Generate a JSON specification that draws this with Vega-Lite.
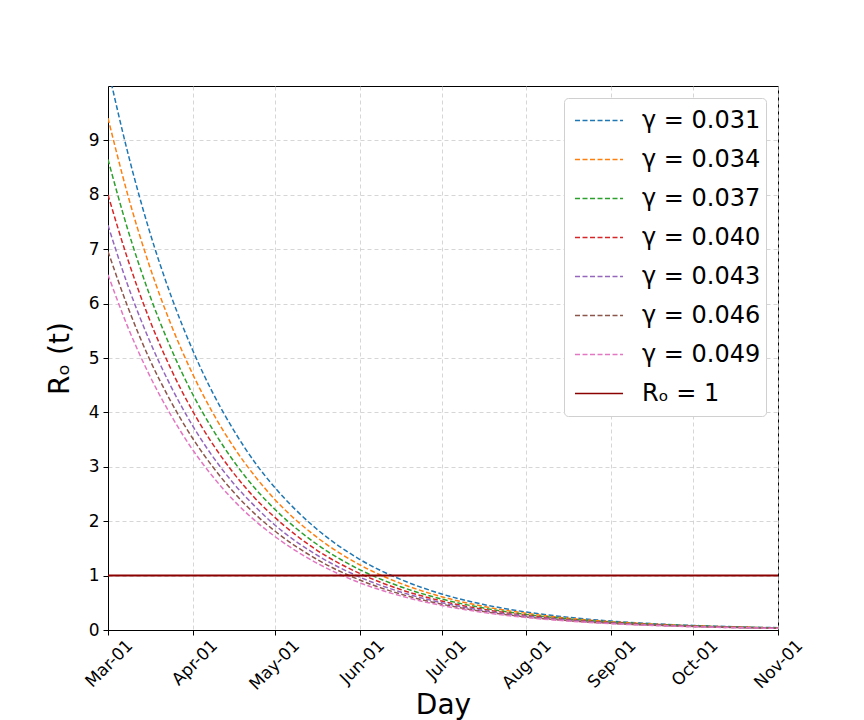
{
  "$schema": "https://vega.github.io/schema/vega-lite/v6.json",
  "autosize": "none",
  "width": 670,
  "height": 544,
  "padding": {"left": 108, "top": 86, "right": 86, "bottom": 90},
  "background": "white",
  "data": {"values": [
    {"d": "2020-03-01", "s": "γ = 0.031", "r": 10.32}, {"d": "2020-03-08", "s": "γ = 0.031", "r": 8.82}, {"d": "2020-03-16", "s": "γ = 0.031", "r": 7.36}, {"d": "2020-03-24", "s": "γ = 0.031", "r": 6.15}, {"d": "2020-04-01", "s": "γ = 0.031", "r": 5.14}, {"d": "2020-04-08", "s": "γ = 0.031", "r": 4.39}, {"d": "2020-04-16", "s": "γ = 0.031", "r": 3.67}, {"d": "2020-04-24", "s": "γ = 0.031", "r": 3.06}, {"d": "2020-05-01", "s": "γ = 0.031", "r": 2.62}, {"d": "2020-05-16", "s": "γ = 0.031", "r": 1.87}, {"d": "2020-06-01", "s": "γ = 0.031", "r": 1.30}, {"d": "2020-06-16", "s": "γ = 0.031", "r": 0.930}, {"d": "2020-07-01", "s": "γ = 0.031", "r": 0.663}, {"d": "2020-07-16", "s": "γ = 0.031", "r": 0.473}, {"d": "2020-08-01", "s": "γ = 0.031", "r": 0.330}, {"d": "2020-08-16", "s": "γ = 0.031", "r": 0.236}, {"d": "2020-09-01", "s": "γ = 0.031", "r": 0.164}, {"d": "2020-09-16", "s": "γ = 0.031", "r": 0.117}, {"d": "2020-10-01", "s": "γ = 0.031", "r": 0.084}, {"d": "2020-10-16", "s": "γ = 0.031", "r": 0.060}, {"d": "2020-11-01", "s": "γ = 0.031", "r": 0.042},
    {"d": "2020-03-01", "s": "γ = 0.034", "r": 9.41}, {"d": "2020-03-08", "s": "γ = 0.034", "r": 8.04}, {"d": "2020-03-16", "s": "γ = 0.034", "r": 6.72}, {"d": "2020-03-24", "s": "γ = 0.034", "r": 5.62}, {"d": "2020-04-01", "s": "γ = 0.034", "r": 4.70}, {"d": "2020-04-08", "s": "γ = 0.034", "r": 4.02}, {"d": "2020-04-16", "s": "γ = 0.034", "r": 3.36}, {"d": "2020-04-24", "s": "γ = 0.034", "r": 2.81}, {"d": "2020-05-01", "s": "γ = 0.034", "r": 2.40}, {"d": "2020-05-16", "s": "γ = 0.034", "r": 1.72}, {"d": "2020-06-01", "s": "γ = 0.034", "r": 1.20}, {"d": "2020-06-16", "s": "γ = 0.034", "r": 0.857}, {"d": "2020-07-01", "s": "γ = 0.034", "r": 0.612}, {"d": "2020-07-16", "s": "γ = 0.034", "r": 0.437}, {"d": "2020-08-01", "s": "γ = 0.034", "r": 0.306}, {"d": "2020-08-16", "s": "γ = 0.034", "r": 0.218}, {"d": "2020-09-01", "s": "γ = 0.034", "r": 0.153}, {"d": "2020-09-16", "s": "γ = 0.034", "r": 0.109}, {"d": "2020-10-01", "s": "γ = 0.034", "r": 0.078}, {"d": "2020-10-16", "s": "γ = 0.034", "r": 0.056}, {"d": "2020-11-01", "s": "γ = 0.034", "r": 0.039},
    {"d": "2020-03-01", "s": "γ = 0.037", "r": 8.65}, {"d": "2020-03-08", "s": "γ = 0.037", "r": 7.40}, {"d": "2020-03-16", "s": "γ = 0.037", "r": 6.19}, {"d": "2020-03-24", "s": "γ = 0.037", "r": 5.18}, {"d": "2020-04-01", "s": "γ = 0.037", "r": 4.33}, {"d": "2020-04-08", "s": "γ = 0.037", "r": 3.71}, {"d": "2020-04-16", "s": "γ = 0.037", "r": 3.10}, {"d": "2020-04-24", "s": "γ = 0.037", "r": 2.59}, {"d": "2020-05-01", "s": "γ = 0.037", "r": 2.22}, {"d": "2020-05-16", "s": "γ = 0.037", "r": 1.59}, {"d": "2020-06-01", "s": "γ = 0.037", "r": 1.11}, {"d": "2020-06-16", "s": "γ = 0.037", "r": 0.796}, {"d": "2020-07-01", "s": "γ = 0.037", "r": 0.569}, {"d": "2020-07-16", "s": "γ = 0.037", "r": 0.407}, {"d": "2020-08-01", "s": "γ = 0.037", "r": 0.285}, {"d": "2020-08-16", "s": "γ = 0.037", "r": 0.204}, {"d": "2020-09-01", "s": "γ = 0.037", "r": 0.143}, {"d": "2020-09-16", "s": "γ = 0.037", "r": 0.102}, {"d": "2020-10-01", "s": "γ = 0.037", "r": 0.073}, {"d": "2020-10-16", "s": "γ = 0.037", "r": 0.052}, {"d": "2020-11-01", "s": "γ = 0.037", "r": 0.037},
    {"d": "2020-03-01", "s": "γ = 0.040", "r": 8.00}, {"d": "2020-03-08", "s": "γ = 0.040", "r": 6.85}, {"d": "2020-03-16", "s": "γ = 0.040", "r": 5.73}, {"d": "2020-03-24", "s": "γ = 0.040", "r": 4.80}, {"d": "2020-04-01", "s": "γ = 0.040", "r": 4.02}, {"d": "2020-04-08", "s": "γ = 0.040", "r": 3.44}, {"d": "2020-04-16", "s": "γ = 0.040", "r": 2.88}, {"d": "2020-04-24", "s": "γ = 0.040", "r": 2.41}, {"d": "2020-05-01", "s": "γ = 0.040", "r": 2.07}, {"d": "2020-05-16", "s": "γ = 0.040", "r": 1.48}, {"d": "2020-06-01", "s": "γ = 0.040", "r": 1.04}, {"d": "2020-06-16", "s": "γ = 0.040", "r": 0.744}, {"d": "2020-07-01", "s": "γ = 0.040", "r": 0.533}, {"d": "2020-07-16", "s": "γ = 0.040", "r": 0.382}, {"d": "2020-08-01", "s": "γ = 0.040", "r": 0.268}, {"d": "2020-08-16", "s": "γ = 0.040", "r": 0.192}, {"d": "2020-09-01", "s": "γ = 0.040", "r": 0.135}, {"d": "2020-09-16", "s": "γ = 0.040", "r": 0.096}, {"d": "2020-10-01", "s": "γ = 0.040", "r": 0.069}, {"d": "2020-10-16", "s": "γ = 0.040", "r": 0.050}, {"d": "2020-11-01", "s": "γ = 0.040", "r": 0.035},
    {"d": "2020-03-01", "s": "γ = 0.043", "r": 7.44}, {"d": "2020-03-08", "s": "γ = 0.043", "r": 6.37}, {"d": "2020-03-16", "s": "γ = 0.043", "r": 5.34}, {"d": "2020-03-24", "s": "γ = 0.043", "r": 4.48}, {"d": "2020-04-01", "s": "γ = 0.043", "r": 3.75}, {"d": "2020-04-08", "s": "γ = 0.043", "r": 3.21}, {"d": "2020-04-16", "s": "γ = 0.043", "r": 2.69}, {"d": "2020-04-24", "s": "γ = 0.043", "r": 2.26}, {"d": "2020-05-01", "s": "γ = 0.043", "r": 1.93}, {"d": "2020-05-16", "s": "γ = 0.043", "r": 1.39}, {"d": "2020-06-01", "s": "γ = 0.043", "r": 0.974}, {"d": "2020-06-16", "s": "γ = 0.043", "r": 0.699}, {"d": "2020-07-01", "s": "γ = 0.043", "r": 0.502}, {"d": "2020-07-16", "s": "γ = 0.043", "r": 0.360}, {"d": "2020-08-01", "s": "γ = 0.043", "r": 0.253}, {"d": "2020-08-16", "s": "γ = 0.043", "r": 0.182}, {"d": "2020-09-01", "s": "γ = 0.043", "r": 0.128}, {"d": "2020-09-16", "s": "γ = 0.043", "r": 0.092}, {"d": "2020-10-01", "s": "γ = 0.043", "r": 0.066}, {"d": "2020-10-16", "s": "γ = 0.043", "r": 0.047}, {"d": "2020-11-01", "s": "γ = 0.043", "r": 0.033},
    {"d": "2020-03-01", "s": "γ = 0.046", "r": 6.96}, {"d": "2020-03-08", "s": "γ = 0.046", "r": 5.97}, {"d": "2020-03-16", "s": "γ = 0.046", "r": 5.00}, {"d": "2020-03-24", "s": "γ = 0.046", "r": 4.20}, {"d": "2020-04-01", "s": "γ = 0.046", "r": 3.52}, {"d": "2020-04-08", "s": "γ = 0.046", "r": 3.02}, {"d": "2020-04-16", "s": "γ = 0.046", "r": 2.53}, {"d": "2020-04-24", "s": "γ = 0.046", "r": 2.12}, {"d": "2020-05-01", "s": "γ = 0.046", "r": 1.82}, {"d": "2020-05-16", "s": "γ = 0.046", "r": 1.31}, {"d": "2020-06-01", "s": "γ = 0.046", "r": 0.920}, {"d": "2020-06-16", "s": "γ = 0.046", "r": 0.661}, {"d": "2020-07-01", "s": "γ = 0.046", "r": 0.475}, {"d": "2020-07-16", "s": "γ = 0.046", "r": 0.342}, {"d": "2020-08-01", "s": "γ = 0.046", "r": 0.240}, {"d": "2020-08-16", "s": "γ = 0.046", "r": 0.173}, {"d": "2020-09-01", "s": "γ = 0.046", "r": 0.122}, {"d": "2020-09-16", "s": "γ = 0.046", "r": 0.087}, {"d": "2020-10-01", "s": "γ = 0.046", "r": 0.063}, {"d": "2020-10-16", "s": "γ = 0.046", "r": 0.045}, {"d": "2020-11-01", "s": "γ = 0.046", "r": 0.032},
    {"d": "2020-03-01", "s": "γ = 0.049", "r": 6.53}, {"d": "2020-03-08", "s": "γ = 0.049", "r": 5.60}, {"d": "2020-03-16", "s": "γ = 0.049", "r": 4.70}, {"d": "2020-03-24", "s": "γ = 0.049", "r": 3.95}, {"d": "2020-04-01", "s": "γ = 0.049", "r": 3.31}, {"d": "2020-04-08", "s": "γ = 0.049", "r": 2.84}, {"d": "2020-04-16", "s": "γ = 0.049", "r": 2.38}, {"d": "2020-04-24", "s": "γ = 0.049", "r": 2.00}, {"d": "2020-05-01", "s": "γ = 0.049", "r": 1.72}, {"d": "2020-05-16", "s": "γ = 0.049", "r": 1.24}, {"d": "2020-06-01", "s": "γ = 0.049", "r": 0.870}, {"d": "2020-06-16", "s": "γ = 0.049", "r": 0.627}, {"d": "2020-07-01", "s": "γ = 0.049", "r": 0.451}, {"d": "2020-07-16", "s": "γ = 0.049", "r": 0.325}, {"d": "2020-08-01", "s": "γ = 0.049", "r": 0.229}, {"d": "2020-08-16", "s": "γ = 0.049", "r": 0.165}, {"d": "2020-09-01", "s": "γ = 0.049", "r": 0.116}, {"d": "2020-09-16", "s": "γ = 0.049", "r": 0.084}, {"d": "2020-10-01", "s": "γ = 0.049", "r": 0.060}, {"d": "2020-10-16", "s": "γ = 0.049", "r": 0.043}, {"d": "2020-11-01", "s": "γ = 0.049", "r": 0.030},
    {"d": "2020-03-01", "s": "Rₒ = 1", "r": 1}, {"d": "2020-11-01", "s": "Rₒ = 1", "r": 1}
  ]},
  "encoding": {
    "x": {
      "field": "d", "type": "temporal", "title": "Day",
      "scale": {"type": "utc", "domain": [{"year": 2020, "month": 3, "date": 1, "utc": true}, {"year": 2020, "month": 11, "date": 1, "utc": true}]},
      "axis": {
        "format": "%b-%d", "labelAngle": -45, "labelAlign": "right", "labelBaseline": "top",
        "labelFontSize": 17, "labelOffset": 16, "labelPadding": 2,
        "values": [
          {"year": 2020, "month": 3, "date": 1, "utc": true}, {"year": 2020, "month": 4, "date": 1, "utc": true},
          {"year": 2020, "month": 5, "date": 1, "utc": true}, {"year": 2020, "month": 6, "date": 1, "utc": true},
          {"year": 2020, "month": 7, "date": 1, "utc": true}, {"year": 2020, "month": 8, "date": 1, "utc": true},
          {"year": 2020, "month": 9, "date": 1, "utc": true}, {"year": 2020, "month": 10, "date": 1, "utc": true},
          {"year": 2020, "month": 11, "date": 1, "utc": true}
        ],
        "titleY": 83, "titleBaseline": "alphabetic"
      }
    },
    "y": {
      "field": "r", "type": "quantitative", "title": "Rₒ (t)",
      "scale": {"domain": [0, 10], "nice": false},
      "axis": {"values": [0, 1, 2, 3, 4, 5, 6, 7, 8, 9], "titlePadding": 14, "labelFontSize": 17, "labelPadding": 4}
    },
    "color": {
      "field": "s", "type": "nominal", "title": null,
      "scale": {
        "domain": ["γ = 0.031", "γ = 0.034", "γ = 0.037", "γ = 0.040", "γ = 0.043", "γ = 0.046", "γ = 0.049", "Rₒ = 1"],
        "range": ["#1f77b4", "#ff7f0e", "#2ca02c", "#d62728", "#9467bd", "#8c564b", "#e377c2", "#8b0000"]
      }
    },
    "strokeDash": {
      "field": "s", "type": "nominal", "title": null,
      "scale": {
        "domain": ["γ = 0.031", "γ = 0.034", "γ = 0.037", "γ = 0.040", "γ = 0.043", "γ = 0.046", "γ = 0.049", "Rₒ = 1"],
        "range": [[5, 2.5], [5, 2.5], [5, 2.5], [5, 2.5], [5, 2.5], [5, 2.5], [5, 2.5], [1, 0]]
      }
    }
  },
  "layer": [
    {
      "transform": [{"filter": "datum.s !== 'Rₒ = 1'"}],
      "mark": {"type": "line", "interpolate": "monotone", "strokeWidth": 1.5, "clip": true}
    },
    {
      "transform": [{"filter": "datum.s === 'Rₒ = 1'"}],
      "mark": {"type": "line", "strokeWidth": 2, "clip": true}
    }
  ],
  "config": {
    "font": "DejaVu Sans",
    "view": {"stroke": "black", "strokeWidth": 1},
    "axis": {
      "labelColor": "black", "labelFont": "DejaVu Sans",
      "titleFontSize": 28, "titleFontWeight": "normal", "titleColor": "black", "titleFont": "DejaVu Sans",
      "domainColor": "black", "tickColor": "black", "tickSize": 5,
      "grid": true, "gridColor": "#cccccc", "gridDash": [4, 3], "gridWidth": 0.8
    },
    "legend": {
      "orient": "top-right", "offset": 12, "padding": 5,
      "strokeColor": "#d0d0d0", "fillColor": "white", "cornerRadius": 4,
      "labelFontSize": 24, "labelColor": "black", "labelFont": "DejaVu Sans", "labelLimit": 300,
      "symbolType": "stroke", "symbolSize": 2300, "symbolStrokeWidth": 1.6, "symbolOffset": 5,
      "clipHeight": 35, "rowPadding": 4, "labelOffset": 18
    }
  }
}
